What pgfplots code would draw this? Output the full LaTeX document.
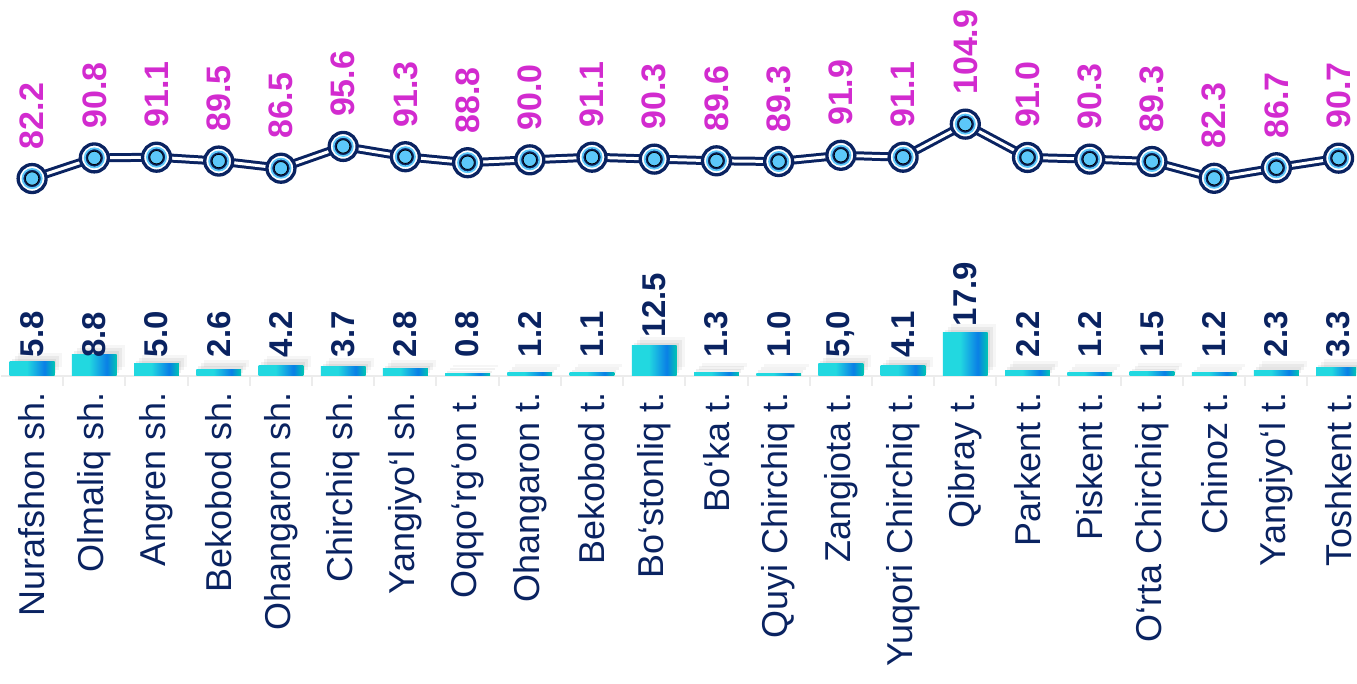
\documentclass[border=0pt]{standalone}
\usepackage{pgfplots}
\pgfplotsset{compat=1.18}
\usepackage{fontspec}
\setmainfont{Liberation Sans}

\definecolor{navy}{HTML}{0A2361}
\definecolor{mag}{HTML}{D22BCF}
\definecolor{lblue}{HTML}{5CC8FA}
\definecolor{barA}{HTML}{22D8E0}
\definecolor{barB}{HTML}{0A7FE6}
\definecolor{barC}{HTML}{00C6B4}
% left edge of the bar = 25bp, right edge = 75bp
\pgfdeclarehorizontalshading{barshade}{100bp}{color(0bp)=(barA); color(25bp)=(barA); color(44bp)=(barA); color(64bp)=(barB); color(75bp)=(barC); color(100bp)=(barC)}

% one plot per bar, so each bar gets its own gradient
\pgfplotsset{
  mybar/.style={ybar, bar width=0.72, bar shift=0pt, draw=none,
    preaction={fill=black, fill opacity=0.06, shade=false, transform canvas={xshift=1pt, yshift=1.5pt}},
    preaction={fill=black, fill opacity=0.05, shade=false, transform canvas={xshift=2.5pt, yshift=3pt}},
    preaction={fill=black, fill opacity=0.035, shade=false, transform canvas={xshift=4pt, yshift=4.5pt}},
    shade, shading=barshade},
}

\begin{document}
\begin{tikzpicture}
\begin{axis}[
    scale only axis,
    width=678.4pt, height=188pt,
    xmin=-0.5, xmax=21.28,
    ymin=0, ymax=156.7,
    clip=false,
    axis y line=none,
    axis x line*=bottom,
    axis line style={-, draw=gray!15, line width=1pt},
    xtick={0,...,21},
    xticklabels={Nurafshon sh., Olmaliq sh., Angren sh., Bekobod sh., Ohangaron sh., Chirchiq sh., Yangiyo‘l sh., Oqqo‘rg‘on t., Ohangaron t., Bekobod t., Bo‘stonliq t., Bo‘ka t., Quyi Chirchiq t., Zangiota t., Yuqori Chirchiq t., Qibray t., Parkent t., Piskent t., O‘rta Chirchiq t., Chinoz t., Yangiyo‘l t., Toshkent t.},
    major tick length=0pt,
    minor x tick num=1,
    minor tick length=5pt,
    tick align=outside,
    minor tick style={draw=gray!15, line width=1pt},
    x tick label style={rotate=90, anchor=east, inner ysep=0pt, inner xsep=8.5pt, text=navy, font=\fontsize{18}{20}\selectfont},
]
% keep the whole axis area in the picture
\path (rel axis cs:0,1) -- (rel axis cs:1,0);
% bars
\addplot[mybar] coordinates {(0,5.8)};
\addplot[mybar] coordinates {(1,8.8)};
\addplot[mybar] coordinates {(2,5.0)};
\addplot[mybar] coordinates {(3,2.6)};
\addplot[mybar] coordinates {(4,4.2)};
\addplot[mybar] coordinates {(5,3.7)};
\addplot[mybar] coordinates {(6,2.8)};
\addplot[mybar] coordinates {(7,0.8)};
\addplot[mybar] coordinates {(8,1.2)};
\addplot[mybar] coordinates {(9,1.1)};
\addplot[mybar] coordinates {(10,12.5)};
\addplot[mybar] coordinates {(11,1.3)};
\addplot[mybar] coordinates {(12,1.0)};
\addplot[mybar] coordinates {(13,5.0)};
\addplot[mybar] coordinates {(14,4.1)};
\addplot[mybar] coordinates {(15,17.9)};
\addplot[mybar] coordinates {(16,2.2)};
\addplot[mybar] coordinates {(17,1.2)};
\addplot[mybar] coordinates {(18,1.5)};
\addplot[mybar] coordinates {(19,1.2)};
\addplot[mybar] coordinates {(20,2.3)};
% last bar is cut at the right edge, as in the reference
\addplot[mybar, bar width=0.64, bar shift=-0.04] coordinates {(21,3.3)};
% bar value labels (placed where the reference sets them)
\addplot[draw=none, mark=none, point meta=explicit symbolic, nodes near coords,
    every node near coord/.style={rotate=90, anchor=west, inner sep=0pt, text=navy, font=\bfseries\fontsize{16.5}{18}\selectfont}] coordinates {
    (0,7.5)[5.8] (1,7.3)[8.8] (2,7.5)[5.0] (3,7.5)[2.6] (4,7.5)[4.2] (5,7.5)[3.7] (6,7.5)[2.8] (7,7.5)[0.8]
    (8,7.5)[1.2] (9,7.5)[1.1] (10,15.8)[12.5] (11,7.5)[1.3] (12,7.5)[1.0] (13,7.5)[{5,0}] (14,7.5)[4.1]
    (15,20.4)[17.9] (16,7.5)[2.2] (17,7.5)[1.2] (18,7.5)[1.5] (19,7.5)[1.2] (20,7.5)[2.3] (21,7.5)[3.3]};
% line
\addplot[navy, line width=1.5pt, double=white, double distance=1.5pt, mark=none,
    point meta=explicit symbolic, nodes near coords,
    every node near coord/.style={yshift=14pt, rotate=90, anchor=west, inner sep=0pt, text=mag, font=\bfseries\fontsize{17}{18}\selectfont}] coordinates {
    (0,82.2)[82.2] (1,90.8)[90.8] (2,91.1)[91.1] (3,89.5)[89.5] (4,86.5)[86.5] (5,95.6)[95.6]
    (6,91.3)[91.3] (7,88.8)[88.8] (8,90.0)[90.0] (9,91.1)[91.1] (10,90.3)[90.3] (11,89.6)[89.6]
    (12,89.3)[89.3] (13,91.9)[91.9] (14,91.1)[91.1] (15,104.9)[104.9] (16,91.0)[91.0] (17,90.3)[90.3]
    (18,89.3)[89.3] (19,82.3)[82.3] (20,86.7)[86.7] (21,90.7)[90.7]};
% markers in layers
\pgfplotstableread{
x y
0 82.2
1 90.8
2 91.1
3 89.5
4 86.5
5 95.6
6 91.3
7 88.8
8 90.0
9 91.1
10 90.3
11 89.6
12 89.3
13 91.9
14 91.1
15 104.9
16 91.0
17 90.3
18 89.3
19 82.3
20 86.7
21 90.7
}\linedata
\addplot[only marks, mark=*, mark size=7pt, mark options={draw=navy, fill=white, line width=1.65pt}] table {\linedata};
\addplot[only marks, mark=*, mark size=4.8pt, mark options={draw=lblue, fill=navy, line width=0.9pt}] table {\linedata};
\addplot[only marks, mark=*, mark size=3.35pt, mark options={draw=none, fill=lblue}] table {\linedata};
\end{axis}
\end{tikzpicture}
\end{document}
